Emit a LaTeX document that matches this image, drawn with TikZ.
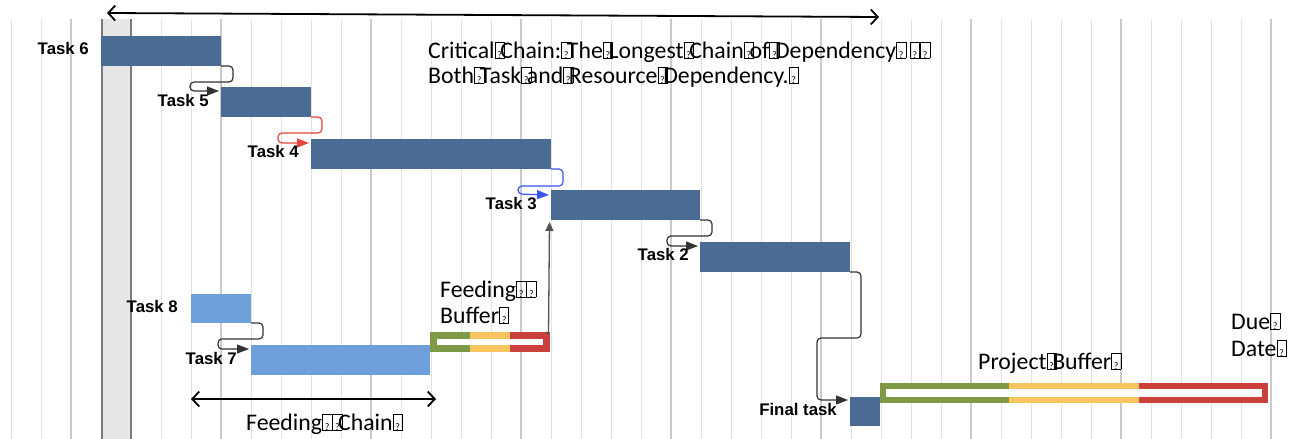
\documentclass[tikz,border=0pt]{standalone}
\usepackage{fontspec}
\setmainfont{Carlito}
\newfontfamily\labelfont{Liberation Sans}
\usetikzlibrary{arrows.meta}

\definecolor{barDark}{HTML}{4A6B94}
\definecolor{barLight}{HTML}{6D9FDA}
\definecolor{bufGreen}{HTML}{7E9A47}
\definecolor{bufYellow}{HTML}{F6C55D}
\definecolor{bufRed}{HTML}{C9403D}
\definecolor{gridLight}{HTML}{E2E2E2}
\definecolor{gridDark}{HTML}{CACACA}
\definecolor{bandFill}{HTML}{E6E6E6}
\definecolor{bandEdge}{HTML}{7A7A7A}
\definecolor{depGrey}{HTML}{333333}
\definecolor{depRed}{HTML}{E8453C}
\definecolor{depBlue}{HTML}{3A55F0}

% glyph-fallback boxes printed in place of unsupported characters
\newcommand\qframe{\fboxsep=0pt\fboxrule=0.6pt\fbox{\makebox[0.37em]{\rule{0pt}{0.64em}\fontsize{10}{10}\selectfont ?}}}
\newcommand\qbox{\makebox[0.24em][l]{\qframe}}
\newcommand\qboxw{\makebox[0.43em][l]{\qframe}}

\tikzset{
  bar/.style={rectangle, inner sep=0pt, outer sep=0pt, anchor=north west, fill=barDark},
  lightbar/.style={bar, fill=barLight},
  seg/.style={rectangle, inner sep=0pt, outer sep=0pt, anchor=north west},
  tasklabel/.style={font=\labelfont\bfseries\fontsize{16.8}{18}\selectfont, inner sep=0pt, anchor=base east},
  note/.style={font=\fontsize{23.8}{25}\selectfont, inner sep=0pt, anchor=base west},
  dep/.style={line width=1.2pt, rounded corners=4pt, -{Triangle[length=12pt,width=9pt]}},
  span/.style={line width=1.8pt, {Straight Barb[length=7pt,width=15pt]}-{Straight Barb[length=7pt,width=15pt]}},
  gridline/.style={draw=gridLight, line width=1pt},
  gridmajor/.style={draw=gridDark, line width=1.2pt}
}

\begin{document}
\begin{tikzpicture}[x=1pt,y=-1pt]
\useasboundingbox (0,0) rectangle (1302,439);
\fill[white] (0,0) rectangle (1302,439);

% time grid
\foreach \k [evaluate=\k as \xx using 11+30*\k] in {0,...,42}
  \draw[gridline] (\xx,19) -- (\xx,439);
\foreach \xx in {71,221,...,1271}
  \draw[gridmajor] (\xx,19) -- (\xx,439);

% current-date band
\fill[bandFill] (101,19) rectangle (131,439);
\draw[bandEdge, line width=1.5pt] (102,19) -- (102,439);
\draw[bandEdge, line width=1.5pt] (131,19) -- (131,439);

% critical chain tasks
\node[bar, minimum width=120pt, minimum height=30pt] (t6) at (101,36) {};
\node[bar, minimum width=90pt,  minimum height=30pt] (t5) at (221,87) {};
\node[bar, minimum width=240pt, minimum height=30pt] (t4) at (311,139) {};
\node[bar, minimum width=149pt, minimum height=30pt] (t3) at (551,190) {};
\node[bar, minimum width=150pt, minimum height=30pt] (t2) at (700,242) {};
\node[bar, minimum width=30pt,  minimum height=29pt] (fin) at (850,397) {};

% feeding chain tasks
\node[lightbar, minimum width=60pt,  minimum height=29pt] (t8) at (191,294) {};
\node[lightbar, minimum width=179pt, minimum height=30pt] (t7) at (251,345) {};

% feeding buffer
\node[seg, fill=bufGreen,  minimum width=40pt, minimum height=20pt] (fb1) at (430,332) {};
\node[seg, fill=bufYellow, minimum width=40pt, minimum height=20pt] (fb2) at (470,332) {};
\node[seg, fill=bufRed,    minimum width=40pt, minimum height=20pt] (fb3) at (510,332) {};
\node[seg, fill=white, minimum width=106pt, minimum height=6pt] (fbin) at (437,339) {};

% project buffer
\node[seg, fill=bufGreen,  minimum width=129.4pt, minimum height=20pt] (pb1) at (880,383) {};
\node[seg, fill=bufYellow, minimum width=129.4pt, minimum height=20pt] (pb2) at (1009.3,383) {};
\node[seg, fill=bufRed,    minimum width=129.4pt, minimum height=20pt] (pb3) at (1138.6,383) {};
\node[seg, fill=white, minimum width=376pt, minimum height=8pt] (pbin) at (886,389) {};

% dependencies
\draw[dep, draw=depGrey] (t6.south east) -- ++(12,0) -- ++(0,16) -- ++(-43,0) -- ++(0,9)
  -- ([xshift=-2pt,yshift=-4pt]t5.north west);
\draw[dep, draw=depRed] (t5.south east) -- ++(11,0) -- ++(0,16) -- ++(-44,0) -- ++(0,10)
  -- ([xshift=-2pt,yshift=-4pt]t4.north west);
\draw[dep, draw=depBlue] (t4.south east) -- ++(12,0) -- ++(0,17) -- ++(-45,0) -- ++(0,8)
  -- ([xshift=-2pt,yshift=-5pt]t3.north west);
\draw[dep, draw=depGrey] (t3.south east) -- ++(12,0) -- ++(0,16) -- ++(-45,0) -- ++(0,10)
  -- ([xshift=-2pt,yshift=-4pt]t2.north west);
\draw[dep, draw=depGrey] (t2.south east) -- ++(11,0) -- ++(0,66) -- ++(-44,0) -- ++(0,62)
  -- ([xshift=-2pt,yshift=-3pt]fin.north west);
\draw[dep, draw=depGrey] (t8.south east) -- ++(12,0) -- ++(0,16) -- ++(-45,0) -- ++(0,10)
  -- ([xshift=-2pt,yshift=-4pt]t7.north west);
\draw[draw=depGrey!85, line width=1.3pt, rounded corners=2pt, -{Triangle[length=9pt,width=8pt]}]
  ([xshift=-4pt]fb3.north east) -- ([xshift=-1.5pt,yshift=-3pt]fb3.north east)
  -- ([xshift=-1.5pt,yshift=-2pt]t3.south west);

% chain spans
\coordinate (ccL) at (107,13);
\coordinate (ccR) at (879,17);
\draw[span] (ccL) -- (ccR);
\coordinate (fcL) at (191,399);
\coordinate (fcR) at (436,399);
\draw[span] (fcL) -- (fcR);

% task labels
\node[tasklabel] (l6) at (89,54) {Task 6};
\node[tasklabel] (l5) at (209,106) {Task 5};
\node[tasklabel] (l4) at (299,157) {Task 4};
\node[tasklabel] (l3) at (537,209) {Task 3};
\node[tasklabel] (l2) at (689,260) {Task 2};
\node[tasklabel] (lf) at (837,415) {Final task};
\node[tasklabel] (l8) at (178,312) {Task 8};
\node[tasklabel] (l7) at (237,364) {Task 7};

% annotations
\node[note] (cc1) at (428,58) {Critical\qbox Chain:\qbox The\qbox Longest\qbox Chain\qbox of\qbox Dependency\qboxw\hspace{0.15em}\qboxw\qboxw};
\node[note] (cc2) at (428,83) {Both\qbox Task\qbox and\qbox Resource\qbox Dependency.\qboxw};
\node[note] (fb1t) at (440,297) {Feeding\qboxw\qboxw};
\node[note] (fb2t) at (440,323) {Buffer\qboxw};
\node[note] (fct) at (246,430) {Feeding\qboxw\qbox Chain\qboxw};
\node[note] (pbt) at (978,369) {Project\qbox Buffer\qboxw};
\node[note] (dd1) at (1231,329) {Due\qboxw};
\node[note] (dd2) at (1231,356) {Date\qboxw};
\end{tikzpicture}
\end{document}
